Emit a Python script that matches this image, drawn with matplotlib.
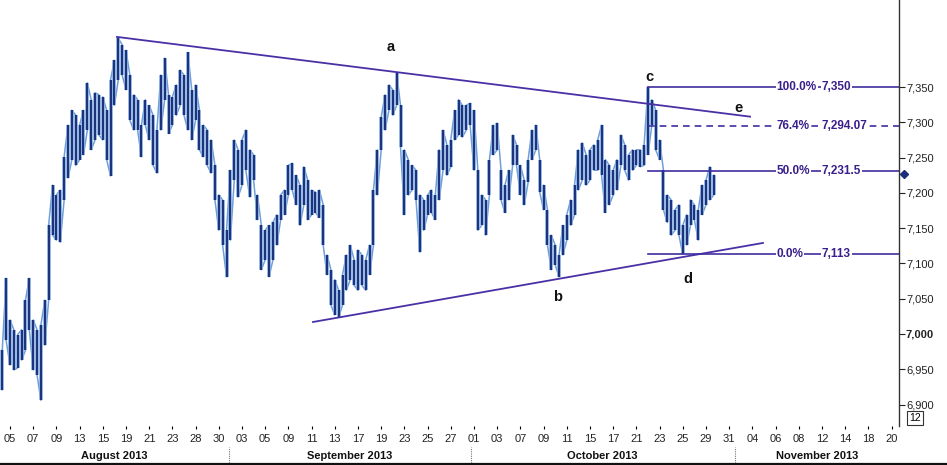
import matplotlib
matplotlib.use("Agg")
import matplotlib.pyplot as plt
from matplotlib.lines import Line2D

plt.rcParams['font.family'] = ['Liberation Sans', 'DejaVu Sans']

# hourly-ish bars, 3 per trading day, first bar just before 05 Aug
highs = [
    6977, 7079, 7020, 7006, 6999, 7006, 7048, 7079, 7020, 7006,
    7013, 7048, 7154, 7211, 7197, 7204, 7251, 7296, 7317, 7310,
    7296, 7317, 7356, 7332, 7342, 7339, 7336, 7317, 7360, 7388,
    7419, 7410, 7402, 7367, 7339, 7332, 7296, 7332, 7324, 7310,
    7289, 7367, 7391, 7339, 7336, 7353, 7374, 7367, 7399, 7346,
    7353, 7317, 7296, 7289, 7275, 7239, 7197, 7190, 7147, 7232,
    7275, 7261, 7275, 7289, 7261, 7254, 7197, 7154, 7147, 7154,
    7158, 7169, 7197, 7204, 7239, 7242, 7225, 7211, 7237, 7218,
    7204, 7201, 7204, 7183, 7112, 7091, 7077, 7062, 7084, 7112,
    7126, 7105, 7119, 7112, 7105, 7126, 7204, 7261, 7307, 7339,
    7353, 7346, 7370, 7324, 7261, 7247, 7239, 7232, 7197, 7190,
    7197, 7204, 7197, 7261, 7289, 7268, 7275, 7317, 7332, 7324,
    7324, 7327, 7317, 7232, 7197, 7190, 7247, 7296, 7299, 7232,
    7211, 7232, 7282, 7268, 7239, 7218, 7247, 7289, 7296, 7247,
    7211, 7176, 7140, 7126, 7112, 7154, 7169, 7190, 7211, 7261,
    7271, 7254, 7261, 7268, 7275, 7296, 7247, 7239, 7232, 7247,
    7282, 7268, 7254, 7261, 7261, 7261, 7268, 7350, 7332, 7317,
    7275, 7232, 7197, 7190, 7176, 7183, 7154, 7169, 7190, 7183,
    7176, 7211, 7218, 7237, 7225]
lows = [
    6921, 6991, 6956, 6949, 6952, 6963, 6977, 7006, 6949, 6942,
    6906, 6984, 7048, 7140, 7133, 7130, 7190, 7221, 7247, 7239,
    7247, 7254, 7289, 7261, 7275, 7282, 7275, 7247, 7224, 7324,
    7360, 7367, 7346, 7303, 7289, 7289, 7251, 7296, 7275, 7239,
    7228, 7289, 7332, 7284, 7296, 7310, 7324, 7310, 7289, 7275,
    7303, 7261, 7251, 7239, 7228, 7190, 7147, 7126, 7081, 7133,
    7218, 7194, 7211, 7232, 7194, 7218, 7162, 7091, 7105, 7081,
    7105, 7126, 7162, 7169, 7197, 7204, 7183, 7154, 7183, 7162,
    7169, 7172, 7165, 7126, 7084, 7041, 7027, 7024, 7041, 7062,
    7077, 7069, 7062, 7069, 7062, 7084, 7126, 7197, 7261, 7289,
    7317, 7310, 7324, 7265, 7169, 7197, 7204, 7190, 7116, 7147,
    7169, 7172, 7162, 7190, 7232, 7225, 7237, 7275, 7282, 7279,
    7289, 7296, 7232, 7147, 7154, 7140, 7197, 7254, 7261, 7190,
    7172, 7190, 7239, 7239, 7197, 7183, 7215, 7247, 7261, 7201,
    7176, 7126, 7091, 7098, 7081, 7112, 7133, 7154, 7169, 7204,
    7218, 7211, 7218, 7232, 7232, 7225, 7172, 7183, 7197, 7204,
    7239, 7232, 7218, 7232, 7239, 7237, 7239, 7254, 7296, 7261,
    7247, 7176, 7158, 7140, 7147, 7140, 7113, 7126, 7154, 7162,
    7133, 7169, 7183, 7190, 7197]
BARS_PER_DAY = 3
last_price = 7227

# date axis: a label every 2 trading days
day_labels = ["05", "07", "09", "13", "15", "19", "21", "23", "28", "30",
              "03", "05", "09", "11", "13", "17", "19", "23", "25", "27",
              "01", "03", "07", "09", "11", "15", "17", "21", "23", "25", "29", "31",
              "04", "06", "08", "12", "14", "18", "20"]
months = ["August 2013", "September 2013", "October 2013", "November 2013"]
month_starts = [18.9, 39.7, 62.5]   # in trading days

# trend lines (day, price)
upper_line = [(9.22, 7421), (63.8, 7308)]
lower_line = [(26.12, 7017), (64.91, 7129)]
wave_labels = ["a", "b", "c", "d", "e"]
wave_pos = [(32.8, 7407), (47.2, 7052), (55.1, 7364), (58.4, 7078), (62.8, 7320)]

# fibonacci retracement
fib_pct = ["100.0%", "76.4%", "50.0%", "0.0%"]
fib_val = [7350, 7294.07, 7231.5, 7113]
fib_txt = ["7,350", "7,294.07", "7,231.5", "7,113"]
fib_style = ["-", "--", "-", "-"]
fib_start = 55.0

W, H = 947, 465
fig = plt.figure(figsize=(W / 100, H / 100), dpi=100)
ax = fig.add_axes([0, 39 / H, 899 / W, 1 - 39 / H])

xs = [(k - 2) / BARS_PER_DAY for k in range(len(highs))]
# zig-zag through the bar ends gives the dense hourly texture
zx, zy = [], []
for i, (x, lo, hi) in enumerate(zip(xs, lows, highs)):
    zx += [x, x]
    zy += [lo, hi] if i % 2 == 0 else [hi, lo]
ax.plot(zx, zy, color="#6f9fd8", lw=1.1)
ax.vlines(xs, lows, highs, color="#7eaadc", lw=2.6)
ax.vlines(xs, lows, highs, color="#1d2f7c", lw=1.4)

LC = "#4a30a6"
ax.plot(*zip(*upper_line), color=LC, lw=1.3)
ax.plot(*zip(*lower_line), color=LC, lw=1.3)

x_end = 76.64
for pct, v, t, ls in zip(fib_pct, fib_val, fib_txt, fib_style):
    ax.plot([fib_start, x_end], [v, v], color="#3f2ea0", lw=1.2, ls=ls,
            dashes=(4, 3) if ls == "--" else (None, None), clip_on=False)
    bb = dict(facecolor="white", edgecolor="none", pad=0.6)
    ax.text(66.1, v, pct, color="#3a1f8c", fontsize=8.5, fontweight="bold",
            va="center", ha="left", bbox=bb)
    ax.text(70.0, v, t, color="#3a1f8c", fontsize=8.5, fontweight="bold",
            va="center", ha="left", bbox=bb)

for lab, (dx, py) in zip(wave_labels, wave_pos):
    ax.text(dx, py, lab, fontsize=10.5, fontweight="bold", color="#111111",
            ha="center", va="center")

ax.set_xlim(-0.862, x_end)
ax.set_ylim(6869.6, 7473.3)

# right price axis
ax.yaxis.tick_right()
yt = list(range(6900, 7351, 50))
ax.set_yticks(yt)
ax.set_yticklabels([f"{v:,}" for v in yt], fontsize=8, color="#222222")
for lbl in ax.get_yticklabels():
    if lbl.get_text() == "7,000":
        lbl.set_fontweight("bold")
        lbl.set_color("black")
ax.tick_params(axis="y", direction="out", length=4, width=0.8, pad=1, colors="#222222")

ax.set_xticks([2 * i for i in range(len(day_labels))])
ax.set_xticklabels(day_labels, fontsize=8, color="#222222")
ax.tick_params(axis="x", direction="out", length=2, width=0.8, pad=4)

for s in ["top", "left", "bottom"]:
    ax.spines[s].set_visible(False)
ax.spines["right"].set_color("#333333")
ax.spines["right"].set_linewidth(1.0)

# last price marker on the axis
ax.plot([1.006], [last_price], marker="D", ms=4.5, color="#1d2f7c",
        transform=ax.get_yaxis_transform(), clip_on=False)

# box with the period count
fig.text(915 / W, 1 - 418 / H, "12", fontsize=7.5, ha="center", va="center",
         bbox=dict(boxstyle="square,pad=0.2", facecolor="white", edgecolor="#333333", lw=0.8))

# month row
x0, x1 = ax.get_xlim()
def day_to_fig(d):
    return (d - x0) / (x1 - x0) * (899 / W)

bounds = [x0] + month_starts + [x1]
for m, a, b in zip(months, bounds[:-1], bounds[1:]):
    fig.text((day_to_fig(a) + day_to_fig(b)) / 2, 1 - 456 / H, m, fontsize=8,
             fontweight="bold", ha="center", va="center", color="#111111")
for d in month_starts:
    fx = day_to_fig(d)
    fig.add_artist(Line2D([fx, fx], [1 - 463 / H, 1 - 447 / H], color="#777777",
                          lw=0.8, ls=(0, (1, 1))))
fig.add_artist(Line2D([0, 1], [1 - 463.5 / H, 1 - 463.5 / H], color="#111111", lw=1.6))

fig.savefig("out.png", dpi=100)
